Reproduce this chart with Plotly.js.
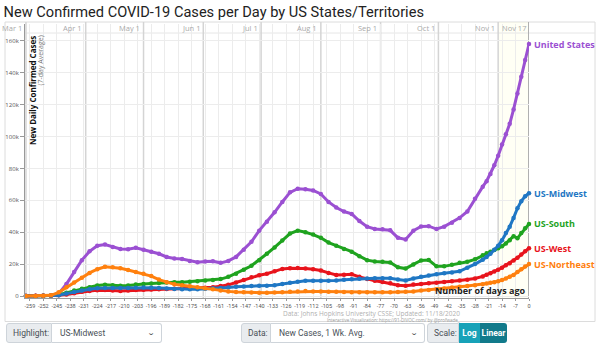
<!DOCTYPE html>
<html>
<head>
<meta charset="utf-8">
<script src="https://cdn.plot.ly/plotly-3.0.1.min.js"></script>
<style>
  html, body { margin: 0; padding: 0; background: #fff; }
  #wrap { position: relative; width: 600px; height: 345px; overflow: hidden; }
  #chart { position: absolute; left: 0; top: 0; width: 600px; height: 345px; }
  .grp { position: absolute; top: 323px; height: 20px; display: flex; font-family: Roboto, "Liberation Sans", sans-serif; font-size: 8.5px; color: #495057; }
  .lbl { background: #e9ecef; border: 1px solid #ced4da; display: flex; align-items: center; padding: 0 6px; box-sizing: border-box; height: 20px; border-radius: 3px 0 0 3px; }
  .sel { background: #fff; border: 1px solid #ced4da; border-left: none; display: flex; align-items: center; justify-content: space-between; padding: 0 7px 0 8px; box-sizing: border-box; height: 20px; border-radius: 0 3px 3px 0; }
  .chev { font-size: 7px; color: #333; transform: scaleX(1.4); }
  .btn { display: flex; align-items: center; justify-content: center; color: #fff; font-weight: bold; height: 20px; box-sizing: border-box; }
</style>
</head>
<body>
<div id="wrap">
  <div id="chart"></div>
  <div class="grp" style="left:6px; width:156px;">
    <div class="lbl" style="width:46px;">Highlight:</div>
    <div class="sel" style="width:110px;"><span>US-Midwest</span><span class="chev">&#8964;</span></div>
  </div>
  <div class="grp" style="left:241px; width:184px;">
    <div class="lbl" style="width:30px;">Data:</div>
    <div class="sel" style="width:154px;"><span>New Cases, 1 Wk. Avg.</span><span class="chev">&#8964;</span></div>
  </div>
  <div class="grp" style="left:427px; width:80px;">
    <div class="lbl" style="width:32px;">Scale:</div>
    <div class="btn" style="width:21px; background:#17a2b8;">Log</div>
    <div class="btn" style="width:27px; background:#117a8b; border-radius:0 3px 3px 0;">Linear</div>
  </div>
</div>
<script>
// Days relative to last data day (Nov 17, 2020 = 0)
const days = [-261,-256,-252,-248,-244,-240,-236,-232,-228,-224,-220,-216,-212,-208,-204,-200,-196,-192,-188,-184,-180,-176,-172,-168,-164,-160,-156,-152,-148,-144,-140,-136,-132,-128,-124,-120,-116,-112,-108,-104,-100,-96,-92,-88,-84,-80,-76,-72,-68,-64,-60,-56,-52,-48,-44,-40,-36,-32,-28,-24,-22,-20,-18,-16,-14,-12,-10,-8,-6,-4,-2,0];

// New daily confirmed cases, 7-day average, in thousands
const unitedStates = [0.1,0.2,0.3,0.5,1.5,7.5,15,22.5,28,31.5,32.3,30.8,29.5,29.3,30.3,29,27.8,26.5,24.5,23.5,23.2,22,21.2,21.6,21.8,20.8,22,24.5,29,34,41,46.6,52.5,59,65,67.3,67,66.2,64,59,55.5,53,51.5,47,43.5,42,41.8,41.2,36.5,35.5,41,43.6,43.8,42,43.5,46,49,53,61,68.6,72,76.5,82,88,95,101.5,108,117,127,137.5,148,158];
const usMidwest = [0,0.05,0.1,0.2,0.5,1.5,2.5,3.5,4.2,4.8,5,5,5,5,5.2,5.3,5.2,5,4.7,4.4,4.2,4.2,4.3,4.5,4.8,5,5.4,5.8,6,6.2,6.4,6.5,6.8,7.5,8.3,9,9.5,9.6,9.6,9.6,9.8,10.2,10.5,10.8,11,11.1,11.2,11.1,10.3,9.8,11,12,12.8,13.6,14.3,14.8,15.5,17.8,20,22.8,24.5,26.5,29,31.5,35,39.5,43.5,49,55,59.5,62.5,64.5];
const usSouth = [0,0.05,0.1,0.3,0.8,2,3.5,4.5,5.5,6.6,7,6.8,6.4,6.6,7.2,7.6,7.8,8.2,8.4,8.6,8.7,9,9.3,9.7,10.1,10.6,12,14,16.5,19,22.5,26.5,30.5,34.8,39.2,41,40,38.5,36.5,33.5,31.5,29.5,27.8,25,22.5,21.6,21.5,21,18,17.2,19.8,22.3,22.6,18.6,18.6,19.6,20.8,21.5,23,25.5,26.8,27.8,28.8,30,31.2,33,35,37.5,36.3,39.5,42.5,45.2];
const usWest = [0.05,0.1,0.15,0.2,0.4,1,1.8,2.6,3.2,3.6,3.7,3.4,3.2,3.4,3.7,3.9,4.1,4.3,4.4,4.5,4.7,4.8,5,5.2,5.5,6.2,7,8.5,10,11.7,13,14,15.5,17,17.4,17.5,17.3,16.8,16,14.5,13.2,13.4,13.6,12,10.6,9.6,8.8,8,6.8,6.5,7.2,7.6,8,8.3,8.8,9.3,9.7,10.2,11,12.3,13.3,14.2,15.3,16.5,17.8,19.3,20.5,22.3,24,26,28,30];
const usNortheast = [0,0.05,0.1,0.4,2.3,5.5,8.4,11.5,14.5,16.8,18.3,18,17.4,16.3,15,14,12.5,10.3,8.6,7.3,6.8,6.1,5.5,4.9,4.2,3.4,2.9,2.5,2.3,2.2,2.1,2.1,2.2,2.4,2.6,2.9,3.1,2.9,2.8,2.7,2.7,2.5,2.4,2.3,2.3,2.3,2.3,2.4,2.5,2.6,2.9,3.4,3.8,4.2,4.7,5.3,5.8,6.3,6.8,7.4,7.8,8.3,8.7,9.2,10,11,12.1,13.2,15,16.8,18.5,20];

const seriesNames = ["United States","US-South","US-West","US-Midwest","US-Northeast"];
const seriesValues = [unitedStates, usSouth, usWest, usMidwest, usNortheast];
const seriesColors = ["#9b50d2","#1fa31f","#e8141c","#1f77c4","#ff800e"];

const weekTicks = [-259,-252,-245,-238,-231,-224,-217,-210,-203,-196,-189,-182,-175,-168,-161,-154,-147,-140,-133,-126,-119,-112,-105,-98,-91,-84,-77,-70,-63,-56,-49,-42,-35,-28,-21,-14,-7,0];
const yTicks = [0,20,40,60,80,100,120,140,160];
const yTickText = ["0","20k","40k","60k","80k","100k","120k","140k","160k"];
const monthLabels = ["Mar 1","Apr 1","May 1","Jun 1","Jul 1","Aug 1","Sep 1","Oct 1","Nov 1","Nov 17"];
const monthDays = [-261,-230,-200,-169,-139,-108,-77,-47,-16,0];

// pixel helpers (plot area: x 25..529, y 24..298)
const PL = 25, PW = 504, PB = 298, PH = 274;
const px2xp = p => (p - PL) / PW;
const px2yp = p => (PB - p) / PH;

const traces = seriesValues.map((vals, i) => ({
  x: days, y: vals, type: 'scatter', mode: 'lines+markers', name: seriesNames[i],
  line: {color: seriesColors[i], width: 3},
  marker: {color: seriesColors[i], size: 4.5},
  hoverinfo: 'skip', showlegend: false, cliponaxis: false
}));

const shapes = [];
const annotations = [];

// frame
shapes.push({type:'rect', xref:'paper', yref:'paper', x0:px2xp(5), x1:px2xp(595), y0:px2yp(321.5), y1:px2yp(22), line:{color:'#dcdcdc', width:1}, fillcolor:'rgba(0,0,0,0)', layer:'below'});
// recent shading
shapes.push({type:'rect', xref:'x', yref:'paper', x0:-16, x1:0, y0:0, y1:px2yp(22), line:{width:0}, fillcolor:'rgba(255,255,215,0.25)', layer:'below'});
// top line under month labels
shapes.push({type:'line', xref:'paper', yref:'paper', x0:0, x1:px2xp(595), y0:px2yp(33), y1:px2yp(33), line:{color:'#e6e6e6', width:1}, layer:'below'});
// month lines and labels
monthDays.forEach((d, i) => {
  shapes.push({type:'line', xref:'x', yref:'paper', x0:d, x1:d, y0:0, y1:px2yp(22), line:{color: i === monthDays.length-1 ? '#b0b0b0' : '#d4d4d4', width: i === monthDays.length-1 ? 2 : 1.5}, layer:'below'});
  annotations.push({xref:'x', yref:'paper', x:d, y:px2yp(28.5), text:monthLabels[i], showarrow:false, xanchor:'right', yanchor:'middle', xshift:-1.5, font:{family:'Open Sans, sans-serif', size:7.5, color:'#aaa'}});
});

// y-axis title
annotations.push({xref:'paper', yref:'paper', x:px2xp(32.5), y:px2yp(34), text:'<b>New Daily Confirmed Cases</b>', textangle:-90, showarrow:false, xanchor:'center', yanchor:'top', font:{family:'Open Sans, sans-serif', size:8, color:'#111'}});
annotations.push({xref:'paper', yref:'paper', x:px2xp(40.5), y:px2yp(34), text:'(7-day Average)', textangle:-90, showarrow:false, xanchor:'center', yanchor:'top', font:{family:'Open Sans, sans-serif', size:7, color:'#777'}});

// end labels
seriesValues.forEach((vals, i) => {
  annotations.push({xref:'x', yref:'y', x:days[days.length-1], y:vals[vals.length-1], text:'<b>'+seriesNames[i]+'</b>', showarrow:false, xanchor:'left', yanchor:'middle', xshift:3, font:{family:'Open Sans, sans-serif', size:9, color:seriesColors[i]}});
});

annotations.push({xref:'x', yref:'paper', x:-1, y:px2yp(290), text:'<b>Number of days ago</b>', showarrow:false, xanchor:'right', yanchor:'middle', font:{family:'Open Sans, sans-serif', size:9, color:'#222'}});
annotations.push({xref:'paper', yref:'paper', x:px2xp(462), y:px2yp(313.5), text:'Data: Johns Hopkins University CSSE; Updated: 11/18/2020', showarrow:false, xanchor:'right', yanchor:'middle', font:{family:'Open Sans, sans-serif', size:6.5, color:'#b0b0b0'}});
annotations.push({xref:'paper', yref:'paper', x:px2xp(462), y:px2yp(319.5), text:'Interactive Visualization: https://91-DIVOC.com/ by @profwade_', showarrow:false, xanchor:'right', yanchor:'middle', font:{family:'Open Sans, sans-serif', size:4.5, color:'#999'}});

const layout = {
  width: 600, height: 345,
  margin: {l: PL, r: 600 - PL - PW, t: PB - PH, b: 345 - PB, pad: 0},
  paper_bgcolor: '#fff', plot_bgcolor: 'rgba(0,0,0,0)',
  title: {text: 'New Confirmed COVID-19 Cases per Day by US States/Territories', xref:'container', yref:'container', x: 0.006, xanchor:'left', y: 1 - 11.5/345, yanchor:'middle', font:{family:'Roboto, sans-serif', size:14.6, color:'#222'}},
  xaxis: {range: [-261.5, 0], tickvals: weekTicks, ticktext: weekTicks.map(String), tickangle: 0, showgrid: true, gridcolor: '#ececec', gridwidth: 1, zeroline: false, showline: true, linecolor: '#999', ticks: 'outside', ticklen: 2, tickcolor: '#999', tickfont: {family:'Roboto, sans-serif', size: 5.5, color:'#555'}, fixedrange: true},
  yaxis: {range: [-1.25, 170.6], tickvals: yTicks, ticktext: yTickText, showgrid: true, gridcolor: '#ececec', gridwidth: 1, zeroline: false, showline: true, linecolor: '#999', ticks: 'outside', ticklen: 4, tickcolor: '#999', tickfont: {family:'Open Sans, sans-serif', size: 6, color:'#555'}, fixedrange: true},
  shapes: shapes, annotations: annotations, showlegend: false
};

Plotly.newPlot('chart', traces, layout, {displayModeBar: false, staticPlot: true});
</script>
</body>
</html>
